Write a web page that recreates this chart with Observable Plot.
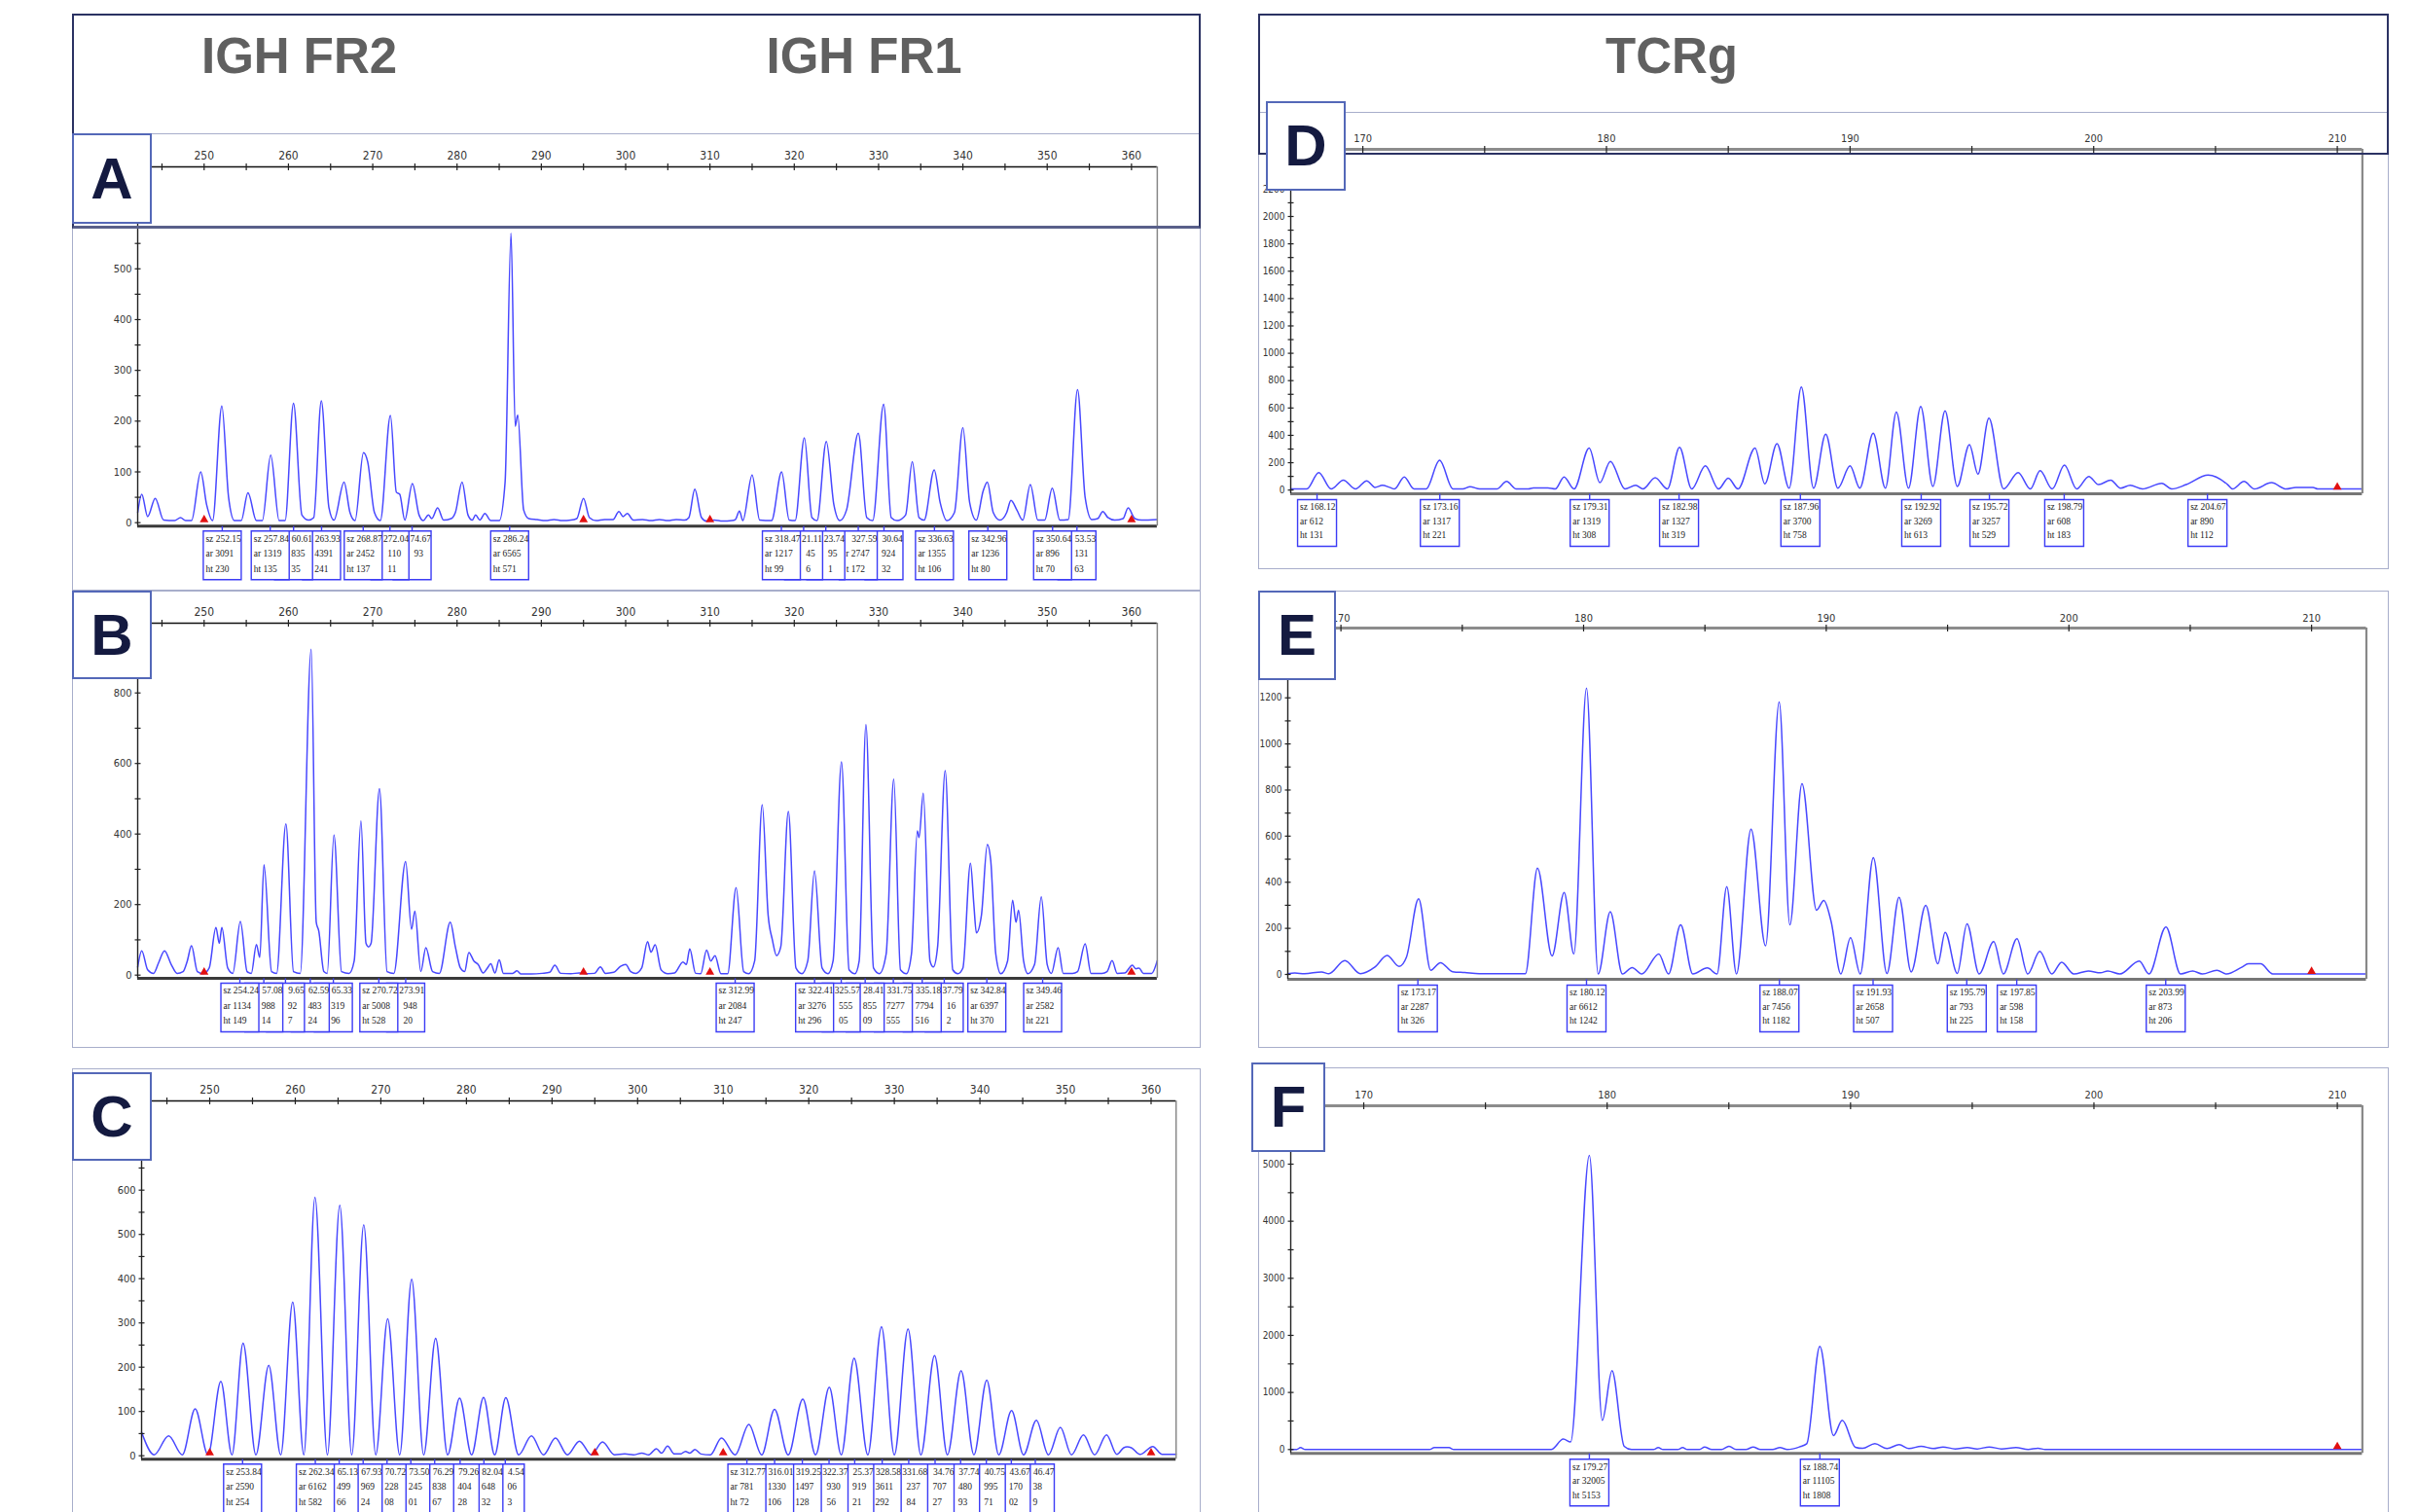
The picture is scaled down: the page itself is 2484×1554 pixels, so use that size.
<!DOCTYPE html>
<html><head><meta charset="utf-8">
<script src="https://cdn.jsdelivr.net/npm/d3@7"></script>
<script src="https://cdn.jsdelivr.net/npm/@observablehq/plot@0.6"></script>
<style>
html,body{margin:0;padding:0;background:#fff;}
body{width:2484px;height:1554px;position:relative;overflow:hidden;font-family:"Liberation Sans",Arial,sans-serif;}
.abs{position:absolute;box-sizing:border-box;}
.frame{border:1.5px solid #a8aecb;}
.hdr{border:2px solid #2b3263;}
.lbl{background:#fff;border:2px solid #5468b8;display:flex;align-items:center;justify-content:center;font-weight:bold;font-size:60px;color:#141a40;line-height:1;}
.title{font-weight:bold;font-size:51px;color:#606060;line-height:1;white-space:nowrap;}
</style></head><body>
<script>
// ---------- data ----------
const headers = ["IGH FR2", "IGH FR1", "TCRg"];
const panelIds = ["A", "B", "C", "D", "E", "F"];

const xTicksIGH = [250, 260, 270, 280, 290, 300, 310, 320, 330, 340, 350, 360];
const xTicksTCR = [170, 180, 190, 200, 210];
const yTicksA = [0, 100, 200, 300, 400, 500];
const yTicksB = [0, 200, 400, 600, 800];
const yTicksC = [0, 100, 200, 300, 400, 500, 600];
const yTicksD = [0, 200, 400, 600, 800, 1000, 1200, 1400, 1600, 1800, 2000, 2200];
const yTicksE = [0, 200, 400, 600, 800, 1000, 1200];
const yTicksF = [0, 1000, 2000, 3000, 4000, 5000];
const sizeStdIGH = [250, 295, 310, 360];
const sizeStdTCR = [210];

// trace points [size (bp), height (rfu)]
const traceA = [[242.12,20],[242.6,56],[243.3,12],[244.2,48],[245.2,5],[246.5,4],[247.2,10],[247.8,4],[248.5,4],[249.6,100],[250.3,35],[251.0,4],[252.1,230],[252.9,50],[253.6,4],[254.4,4],[255.2,59],[256.2,4],[256.9,4],[257.9,133],[258.9,4],[259.6,4],[260.6,235],[261.6,15],[262.4,5],[263.0,10],[263.9,240],[264.8,30],[265.4,5],[266.6,80],[267.3,20],[267.9,4],[268.9,138],[269.4,120],[270.2,20],[270.9,4],[272.1,211],[272.8,60],[273.2,56],[273.8,5],[274.7,77],[275.5,15],[276.0,4],[276.6,15],[277.0,8],[277.7,29],[278.4,5],[279.3,8],[279.8,20],[280.6,80],[281.3,15],[281.8,5],[282.2,15],[282.7,5],[283.3,18],[284.0,4],[285.0,4],[285.7,80],[286.4,570],[286.9,190],[287.2,212],[287.9,25],[288.5,8],[289.5,6],[290.5,4],[291.5,6],[292.5,4],[293.5,5],[294.2,8],[295.0,48],[295.7,10],[296.5,4],[297.5,6],[298.5,6],[299.2,22],[299.7,12],[300.2,18],[300.9,5],[302.0,6],[303.0,4],[304.0,6],[305.0,4],[306.0,6],[307.0,5],[307.5,10],[308.2,66],[309.0,10],[309.6,3],[310.5,5],[311.5,3],[312.6,4],[313.0,6],[313.5,23],[313.9,4],[315.0,94],[315.9,5],[317.3,4],[318.5,100],[319.4,5],[320.1,4],[321.2,167],[322.1,10],[322.7,4],[323.8,160],[324.7,35],[325.4,4],[326.2,25],[327.6,176],[328.6,10],[329.3,4],[330.6,233],[331.5,10],[332.2,4],[333.2,15],[334.0,120],[334.8,10],[335.4,5],[336.6,104],[337.3,40],[338.1,4],[339.0,20],[340.0,187],[340.8,40],[341.6,5],[342.4,62],[342.9,80],[343.6,20],[344.4,5],[345.2,20],[345.7,44],[346.4,25],[347.1,5],[348.0,75],[348.9,5],[349.7,5],[350.6,68],[351.5,5],[352.5,6],[353.6,262],[354.5,50],[355.3,6],[356.0,8],[356.6,22],[357.2,10],[358.0,5],[359.0,8],[359.6,29],[360.4,8],[361.2,5],[363.06,6]];
const traceB = [[242.12,23],[242.6,69],[243.3,15],[244.0,5],[244.6,35],[245.3,69],[246.1,30],[246.8,5],[247.5,10],[248.0,40],[248.5,83],[249.2,10],[249.9,4],[250.6,20],[251.4,135],[251.8,90],[252.1,135],[252.8,20],[253.4,5],[254.3,152],[255.1,10],[255.6,5],[256.2,87],[256.6,50],[257.1,313],[258.0,10],[258.6,5],[259.7,429],[260.6,10],[261.4,5],[262.7,924],[263.3,150],[263.6,125],[264.2,10],[264.6,5],[265.4,397],[266.3,10],[267.2,5],[267.8,40],[268.6,437],[269.2,90],[269.5,80],[269.8,90],[270.8,529],[271.7,10],[272.5,5],[273.9,322],[274.6,130],[275.0,181],[275.7,10],[276.3,78],[277.1,10],[277.9,5],[279.2,150],[279.8,80],[280.4,20],[280.9,10],[281.4,64],[282.0,40],[282.5,30],[283.1,6],[283.6,20],[284.0,32],[284.5,6],[285.0,43],[285.5,5],[286.6,5],[287.1,12],[287.6,3],[288.8,3],[290.1,5],[291.0,8],[291.6,28],[292.3,5],[293.5,4],[294.5,6],[295.3,4],[296.3,5],[297.0,23],[297.6,5],[298.6,8],[299.4,25],[300.0,30],[300.6,10],[301.2,5],[301.9,20],[302.6,95],[303.0,65],[303.5,86],[304.2,15],[305.0,4],[305.8,6],[306.8,37],[307.2,30],[307.6,74],[308.3,5],[308.9,4],[309.6,71],[310.1,40],[310.6,55],[311.3,4],[312.1,4],[313.1,248],[314.0,10],[314.6,4],[315.3,40],[316.2,483],[316.9,170],[317.4,100],[317.9,55],[318.4,80],[319.3,464],[320.2,20],[320.9,4],[321.6,40],[322.4,296],[323.3,20],[324.0,4],[324.6,40],[325.6,605],[326.5,15],[327.2,4],[327.7,40],[328.5,710],[329.4,20],[330.1,4],[330.9,60],[331.8,556],[332.6,15],[333.3,4],[333.9,60],[334.6,409],[334.8,390],[335.3,516],[336.1,40],[336.5,23],[337.0,80],[337.9,580],[338.8,15],[339.4,4],[340.0,20],[340.9,317],[341.3,200],[341.6,120],[342.2,170],[342.9,370],[343.3,326],[343.9,60],[344.5,4],[345.3,40],[345.9,212],[346.3,150],[346.6,184],[347.2,40],[347.7,4],[348.5,30],[349.3,222],[350.0,30],[350.5,5],[351.3,78],[351.9,5],[353.0,5],[353.6,10],[354.5,89],[355.2,5],[356.5,5],[357.1,10],[357.7,41],[358.3,5],[359.2,6],[360.1,28],[360.5,18],[360.9,20],[361.4,5],[362.4,5],[363.06,41]];
const traceC = [[242.04,53],[243.5,2],[245.2,45],[246.8,2],[248.3,106],[249.8,2],[251.3,168],[252.6,2],[253.9,254],[255.4,2],[256.9,204],[258.3,2],[259.7,347],[261.0,2],[262.3,584],[263.75,2],[265.2,566],[266.6,2],[268.0,522],[269.4,2],[270.8,309],[272.2,2],[273.6,399],[275.0,2],[276.4,265],[277.8,2],[279.2,130],[280.6,2],[282.0,132],[283.3,2],[284.6,131],[286.1,2],[287.6,45],[289.0,2],[290.4,40],[291.8,2],[293.2,33],[294.6,2],[295.9,31],[297.3,2],[298.5,4],[299.5,2],[300.5,6],[301.3,2],[302.2,16],[302.8,6],[303.5,22],[304.3,4],[305.0,4],[305.6,10],[306.1,6],[306.7,14],[307.4,4],[308.5,2],[309.8,40],[311.4,2],[313.0,71],[314.5,2],[316.0,105],[317.6,2],[319.3,128],[320.8,2],[322.4,155],[323.8,2],[325.3,220],[326.9,2],[328.5,291],[330.0,2],[331.6,286],[333.1,2],[334.7,226],[336.2,2],[337.8,192],[339.3,2],[340.8,171],[342.2,2],[343.7,102],[345.1,2],[346.6,80],[348.0,2],[349.4,64],[350.7,2],[352.1,47],[353.4,2],[354.8,47],[356.0,3],[356.8,18],[357.2,20],[357.7,18],[358.7,3],[360.2,21],[361.3,3],[362.92,3]];
const traceD = [[167.04,8],[167.7,8],[168.19,128],[168.7,8],[169.2,73],[169.7,8],[170.16,68],[170.5,20],[170.8,35],[171.1,20],[171.3,8],[171.7,95],[172.1,8],[172.6,8],[173.15,218],[173.7,8],[174.1,8],[174.4,25],[174.8,8],[175.5,8],[175.9,63],[176.3,8],[176.8,8],[177.0,15],[177.6,15],[177.9,8],[178.26,95],[178.67,8],[179.29,307],[179.73,54],[180.16,210],[180.76,8],[181.2,35],[181.5,8],[182.0,90],[182.5,8],[183.0,313],[183.5,8],[184.06,177],[184.6,8],[185.0,87],[185.4,8],[186.1,307],[186.5,46],[187.0,340],[187.5,14],[188.0,754],[188.5,14],[189.0,408],[189.5,14],[190.0,177],[190.4,14],[190.95,416],[191.45,14],[191.9,571],[192.4,14],[192.9,612],[193.4,27],[193.9,580],[194.4,27],[194.9,332],[195.25,117],[195.7,525],[196.3,8],[196.9,128],[197.4,8],[197.8,141],[198.3,8],[198.8,182],[199.3,8],[199.8,100],[200.2,40],[200.7,73],[201.1,14],[201.5,35],[202.0,8],[202.8,49],[203.2,8],[203.8,40],[204.7,109],[205.5,40],[205.7,8],[206.17,63],[206.6,8],[207.3,54],[207.9,8],[208.3,20],[209.0,20],[209.2,8],[211.03,8]];
const traceE = [[167.81,3],[168.1,6],[168.5,3],[169.2,11],[169.5,3],[170.16,60],[170.8,3],[171.4,32],[171.9,82],[172.4,35],[172.7,75],[173.2,328],[173.7,18],[174.1,51],[174.6,12],[175.1,8],[175.7,3],[177.6,3],[178.1,461],[178.7,80],[179.2,356],[179.6,89],[180.12,1242],[180.6,2],[181.1,272],[181.6,2],[182.0,30],[182.4,2],[183.1,89],[183.5,2],[184.0,215],[184.5,2],[185.1,28],[185.5,2],[185.9,381],[186.3,2],[186.9,630],[187.5,124],[188.06,1182],[188.5,215],[189.0,827],[189.6,279],[189.9,321],[190.2,230],[190.6,2],[191.0,159],[191.4,2],[191.94,507],[192.5,4],[193.0,335],[193.5,11],[194.1,300],[194.6,46],[194.9,183],[195.4,4],[195.8,220],[196.3,2],[196.9,142],[197.3,2],[197.86,155],[198.3,2],[198.8,100],[199.3,2],[199.7,53],[200.2,2],[200.8,15],[201.3,7],[201.6,15],[202.1,2],[202.9,58],[203.3,2],[204.0,206],[204.6,2],[205.1,15],[205.5,2],[206.1,18],[206.5,2],[207.1,30],[207.4,46],[207.9,46],[208.4,2],[212.26,2]];
const traceF = [[167.0,0],[167.25,0],[167.4,34],[167.6,0],[172.7,0],[172.9,34],[173.5,34],[173.7,0],[177.7,0],[178.2,182],[178.5,131],[179.27,5153],[179.8,511],[180.2,1381],[180.7,57],[181.0,0],[181.9,0],[182.1,34],[182.3,0],[182.9,0],[183.1,34],[183.3,0],[183.8,0],[184.0,45],[184.3,0],[184.7,0],[185.0,57],[185.3,0],[185.7,0],[186.0,45],[186.3,0],[186.8,0],[187.1,34],[187.4,0],[187.9,45],[188.2,100],[188.74,1808],[189.3,244],[189.66,511],[190.2,40],[190.5,20],[191.0,102],[191.5,17],[192.0,85],[192.4,17],[192.9,57],[193.4,17],[193.8,45],[194.3,11],[194.8,34],[195.2,11],[195.7,45],[196.2,11],[196.8,34],[197.3,0],[197.7,23],[198.0,0],[211.03,0]];

// called peaks [size, area, height]
const peaksA = [[252.15,3091,230],[257.84,1319,135],[260.61,2835,235],[263.93,4391,241],[268.87,2452,137],[272.04,3110,211],[274.67,1193,77],[286.24,6565,571],[318.47,1217,99],[321.11,1745,166],[323.74,1595,161],[327.59,2747,172],[330.64,2924,232],[336.63,1355,106],[342.96,1236,80],[350.64,896,70],[353.53,2131,263]];
const peaksB = [[254.24,1134,149],[257.08,2988,314],[259.65,4392,427],[262.59,9483,924],[265.33,4319,396],[270.72,5008,528],[273.91,3948,320],[312.99,2084,247],[322.41,3276,296],[325.57,7555,605],[328.41,8855,709],[331.75,7277,555],[335.18,7794,516],[337.79,8216,582],[342.84,6397,370],[349.46,2582,221]];
const peaksC = [[253.84,2590,254],[262.34,6162,582],[265.13,5499,566],[267.93,5969,524],[270.72,3228,308],[273.50,3245,401],[276.29,2838,267],[279.26,1404,128],[282.04,1648,132],[284.54,1506,133],[312.77,781,72],[316.01,1330,106],[319.25,1497,128],[322.37,1930,156],[325.37,2919,221],[328.58,3611,292],[331.68,3237,284],[334.76,2707,227],[337.74,2480,193],[340.75,1995,171],[343.67,1170,102],[346.47,838,79]];
const peaksD = [[168.12,612,131],[173.16,1317,221],[179.31,1319,308],[182.98,1327,319],[187.96,3700,758],[192.92,3269,613],[195.72,3257,529],[198.79,608,183],[204.67,890,112]];
const peaksE = [[173.17,2287,326],[180.12,6612,1242],[188.07,7456,1182],[191.93,2658,507],[195.79,793,225],[197.85,598,158],[203.99,873,206]];
const peaksF = [[179.27,32005,5153],[188.74,11105,1808]];

// ---------- layout (page pixels) ----------
const layout = {
  A: {px0:141.4, px1:1189.3, pyTop:170.7, pyBot:540, y0:536.4, ppu:0.5218, xDomain:[242.12,363.06]},
  B: {px0:141.4, px1:1189.3, pyTop:640, pyBot:1005, y0:1001.7, ppu:0.3625, xDomain:[242.12,363.06]},
  C: {px0:144.6, px1:1207.8, pyTop:1131, pyBot:1499.3, y0:1495.7, ppu:0.455, xDomain:[242.04,362.92]},
  D: {px0:1326.4, px1:2427.8, pyTop:153, pyBot:507, y0:503.2, ppu:0.1406, xDomain:[167.04,211.03]},
  E: {px0:1322.5, px1:2431, pyTop:645, pyBot:1006, y0:1001, ppu:0.2369, xDomain:[167.81,212.26]},
  F: {px0:1326.4, px1:2427.8, pyTop:1136, pyBot:1493.3, y0:1489.3, ppu:0.05866, xDomain:[167.0,211.03]}
};
const frames = {A:[74,137,1160,470],B:[74,607,1160,470],C:[74,1098,1160,470],D:[1293,115,1162,470],E:[1293,607,1162,470],F:[1293,1097,1162,470]};
const labelBoxes = {A:[74,137,82,93],B:[74,607,82,91],C:[74,1102,82,91],D:[1301,104,82,92],E:[1293,607,80,92],F:[1286,1092,76,92]};

const panels = [
  {id:"A", kind:"igh", trace:traceA, peaks:peaksA, std:sizeStdIGH, xTicks:xTicksIGH, yTicks:yTicksA, yMinor:50, ...layout.A},
  {id:"B", kind:"igh", trace:traceB, peaks:peaksB, std:sizeStdIGH, xTicks:xTicksIGH, yTicks:yTicksB, yMinor:100, ...layout.B},
  {id:"C", kind:"igh", trace:traceC, peaks:peaksC, std:sizeStdIGH, xTicks:xTicksIGH, yTicks:yTicksC, yMinor:50, ...layout.C},
  {id:"D", kind:"tcr", trace:traceD, peaks:peaksD, std:sizeStdTCR, xTicks:xTicksTCR, yTicks:yTicksD, yMinor:100, ...layout.D},
  {id:"E", kind:"tcr", trace:traceE, peaks:peaksE, std:sizeStdTCR, xTicks:xTicksTCR, yTicks:yTicksE, yMinor:100, ...layout.E},
  {id:"F", kind:"tcr", trace:traceF, peaks:peaksF, std:sizeStdTCR, xTicks:xTicksTCR, yTicks:yTicksF, yMinor:500, ...layout.F}
];

// ---------- helpers ----------
const fmt = d3.format(".2f");
const tickFont = "'Liberation Sans Narrow','DejaVu Sans Condensed','Liberation Sans',sans-serif";
const annFont = 9.5;
const annFamily = "'Liberation Serif',serif";
const measureCtx = document.createElement("canvas").getContext("2d");
measureCtx.font = `${annFont}px 'Liberation Serif'`;
const measure = s => measureCtx.measureText(s).width;
// part of a label that stays visible to the right of the box drawn over it
function visibleTail(s, hiddenPx) {
  let i = 0;
  while (i < s.length && measure(s.slice(0, i)) < hiddenPx) i++;
  return [s.slice(i), measure(s.slice(0, i))];
}
function div(cls, l, t, w, h, text) {
  const d = document.createElement("div");
  d.className = "abs " + cls;
  Object.assign(d.style, {left: l + "px", top: t + "px"});
  if (w != null) d.style.width = w + "px";
  if (h != null) d.style.height = h + "px";
  if (text != null) d.textContent = text;
  document.body.appendChild(d);
  return d;
}

// frames behind
for (const id of panelIds) div("frame", ...frames[id]);

function buildPanel(p) {
  const igh = p.kind === "igh";
  const mL = 62, mR = 14, mT = 42, mB = 80;
  const ymin = -(p.pyBot - p.y0) / p.ppu;
  const ymax = (p.y0 - p.pyTop) / p.ppu;
  const [xmin, xmax] = p.xDomain;
  const k = (p.px1 - p.px0) / (xmax - xmin);
  const bw = igh ? 39 : 40, bh = igh ? 50 : 48, gap = igh ? 5 : 6, step = igh ? 15.5 : 14.5;
  const boxSym = {draw(ctx) {
    ctx.moveTo(0, 0); ctx.lineTo(0, gap);
    ctx.moveTo(-bw / 2, gap); ctx.lineTo(bw / 2, gap); ctx.lineTo(bw / 2, gap + bh); ctx.lineTo(-bw / 2, gap + bh); ctx.closePath();
  }};
  const xTickSym = {draw(ctx) { ctx.moveTo(0, -3.5); ctx.lineTo(0, 3.5); }};
  const yTickSym = {draw(ctx) { ctx.moveTo(-3, 0); ctx.lineTo(3, 0); }};
  const xMinor = d3.range(Math.ceil(xmin / 5) * 5, xmax, 5);
  const yMinor = d3.range(0, ymax, p.yMinor);
  const ann = p.peaks.map((pk, i) => {
    const hidden = i > 0 ? bw - (pk[0] - p.peaks[i - 1][0]) * k : 0;
    const lines = [`sz ${fmt(pk[0])}`, `ar ${pk[1]}`, `ht ${pk[2]}`].map((s, j) => {
      const [t, off] = hidden > 0 ? visibleTail(s, hidden - 1.5) : [s, 0];
      return {sz: pk[0], t, dx: -bw / 2 + 2.5 + off, dy: gap + 4 + j * step};
    });
    return {pk, lines};
  }).reverse().flatMap(a => [
    Plot.dot([a.pk], {x: d => d[0], y: () => ymin, symbol: boxSym, fill: "white", stroke: "#3c3cf5", strokeWidth: 1.4}),
    ...a.lines.filter(l => l.t.length).map(l => Plot.text([l], {x: d => d.sz, y: () => ymin, text: d => d.t,
      textAnchor: "start", lineAnchor: "top", dx: l.dx, dy: l.dy, fontSize: annFont, fill: "#222", fontFamily: annFamily}))
  ]);
  const svg = Plot.plot({
    width: p.px1 - p.px0 + mL + mR,
    height: p.pyBot - p.pyTop + mT + mB,
    marginLeft: mL, marginRight: mR, marginTop: mT, marginBottom: mB,
    x: {domain: p.xDomain},
    y: {domain: [ymin, ymax]},
    style: {background: "transparent", overflow: "visible", maxWidth: "none", fontFamily: tickFont},
    marks: [
      Plot.line(p.trace, {x: d => d[0], y: d => d[1], stroke: "#4848ff", strokeWidth: 1.5, curve: "monotone-x"}),
      Plot.ruleY([ymin], {stroke: igh ? "#3a3a3a" : "#767676", strokeWidth: 3}),
      Plot.ruleY([ymax], {stroke: igh ? "#111" : "#8c8c8c", strokeWidth: igh ? 1.6 : 3}),
      Plot.ruleX([xmin], {stroke: "#222", strokeWidth: 1.4}),
      Plot.ruleX([xmax], {stroke: "#888", strokeWidth: igh ? 1.5 : 2.2}),
      Plot.dot(xMinor, {x: d => d, y: () => ymax, symbol: xTickSym, stroke: "#222", strokeWidth: 1.2, fill: "none"}),
      Plot.dot(yMinor, {x: () => xmin, y: d => d, symbol: yTickSym, stroke: "#222", strokeWidth: 1.2, fill: "none"}),
      Plot.axisX(p.xTicks, {anchor: "top", tickSize: 0, tickPadding: 7, label: null, tickFormat: d => String(d), fontSize: igh ? 12 : 11, fill: "#333"}),
      Plot.axisY(p.yTicks, {anchor: "left", tickSize: 0, tickPadding: 6, label: null, tickFormat: d => String(d), fontSize: igh ? 11 : 10, fill: "#333"}),
      Plot.dot(p.std, {x: d => d, y: () => 0, symbol: "triangle", r: 3.3, fill: "#e21010", dy: -3}),
      ...ann
    ]
  });
  Object.assign(svg.style, {position: "absolute", left: (p.px0 - mL) + "px", top: (p.pyTop - mT) + "px"});
  document.body.appendChild(svg);
}
panels.forEach(buildPanel);

// header boxes and labels on top
const hl = div("hdr", 74, 14, 1160, 221);
hl.style.borderBottom = "3px solid #59608a";
div("hdr", 1293, 14, 1162, 145);
for (const id of panelIds) div("lbl", ...labelBoxes[id], id);
const titlePos = [[207, 32], [787.5, 32], [1650, 32]];
headers.forEach((t, i) => div("title", titlePos[i][0], titlePos[i][1], null, null, t));
</script>
</body></html>
